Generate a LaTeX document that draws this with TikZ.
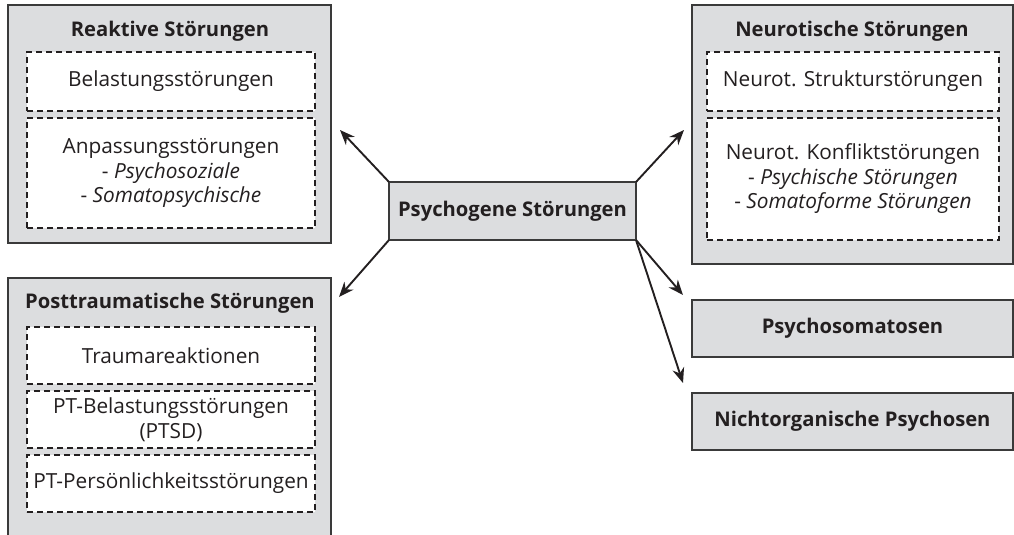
\documentclass[tikz,border=0pt]{standalone}
\usepackage{fontspec}
\setmainfont{Open Sans}
\usetikzlibrary{arrows.meta}
\definecolor{boxgray}{HTML}{DCDDDF}
\definecolor{ink}{HTML}{231F20}
\definecolor{edge}{HTML}{3A3A3A}
\begin{document}
\begin{tikzpicture}[x=1pt,y=-1pt,
  outer/.style={draw=edge, line width=1.8pt, fill=boxgray, anchor=north west, inner sep=0pt, outer sep=0pt},
  inbox/.style={draw=ink, line width=1.2pt, dash pattern=on 6pt off 4pt, fill=white, anchor=north west,
    inner sep=0pt, outer sep=0pt, text=ink, align=center, font=\fontsize{20.8}{24.5}\selectfont},
  ttl/.style={text=ink, font=\fontsize{20.2}{24}\selectfont\bfseries},
  arr/.style={draw=ink, line width=1.9pt, -{Stealth[length=15pt,width=12pt]}}]
\useasboundingbox (0,0) rectangle (1014,535);
\clip (0,0) rectangle (1014,535);

% Reaktive Stoerungen
\node[outer, minimum width=323pt, minimum height=238pt] (reak) at (8,5) {};
\node[ttl] (reakT) at (170,31) {Reaktive Störungen};
\node[inbox, minimum width=288pt, minimum height=59pt] (belast) at (27,52) {Belastungsstörungen};
\node[inbox, minimum width=288pt, minimum height=110pt] (anpass) at (27,118)
  {Anpassungsstörungen\\- \textit{Psychosoziale}\\- \textit{Somatopsychische}};

% Posttraumatische Stoerungen
\node[outer, minimum width=323pt, minimum height=280pt] (post) at (8,278) {};
\node[ttl] (postT) at (170,303) {Posttraumatische Störungen};
\node[inbox, minimum width=288pt, minimum height=57pt] (trauma) at (27,327) {Traumareaktionen};
\node[inbox, minimum width=288pt, minimum height=57pt] (ptbel) at (27,391) {PT-Belastungsstörungen\\(PTSD)};
\node[inbox, minimum width=288pt, minimum height=57pt] (ptpers) at (27,455) {PT-Persönlichkeitsstörungen};

% Neurotische Stoerungen
\node[outer, minimum width=321pt, minimum height=259pt] (neur) at (692,5) {};
\node[ttl] (neurT) at (852,31) {Neurotische Störungen};
\node[inbox, minimum width=292pt, minimum height=59pt] (struk) at (707,52) {Neurot. Strukturstörungen};
\node[inbox, minimum width=292pt, minimum height=122pt] (konf) at (707,118)
  {Neurot. Konfliktstörungen\\- \textit{Psychische Störungen}\\- \textit{Somatoforme Störungen}};

% Psychosomatosen, Nichtorganische Psychosen
\node[outer, minimum width=321pt, minimum height=57pt, ttl] (psom) at (692,300) {Psychosomatosen};
\node[outer, minimum width=321pt, minimum height=57pt, ttl] (nicht) at (692,393) {Nichtorganische Psychosen};

% Zentrum
\node[outer, minimum width=247pt, minimum height=58pt, ttl] (psy) at (389,182) {Psychogene Störungen};

% Pfeile
\coordinate (aTL) at (340,130);
\coordinate (aBL) at (339,297);
\coordinate (aTR) at (684,130);
\coordinate (aR1) at (683,295);
\coordinate (aR2) at (683,383);
\draw[arr] (psy.north west) -- (aTL);
\draw[arr] (psy.south west) -- (aBL);
\draw[arr] (psy.north east) -- (aTR);
\draw[arr] (psy.south east) -- (aR1);
\draw[arr] (psy.south east) -- (aR2);
\end{tikzpicture}
\end{document}
